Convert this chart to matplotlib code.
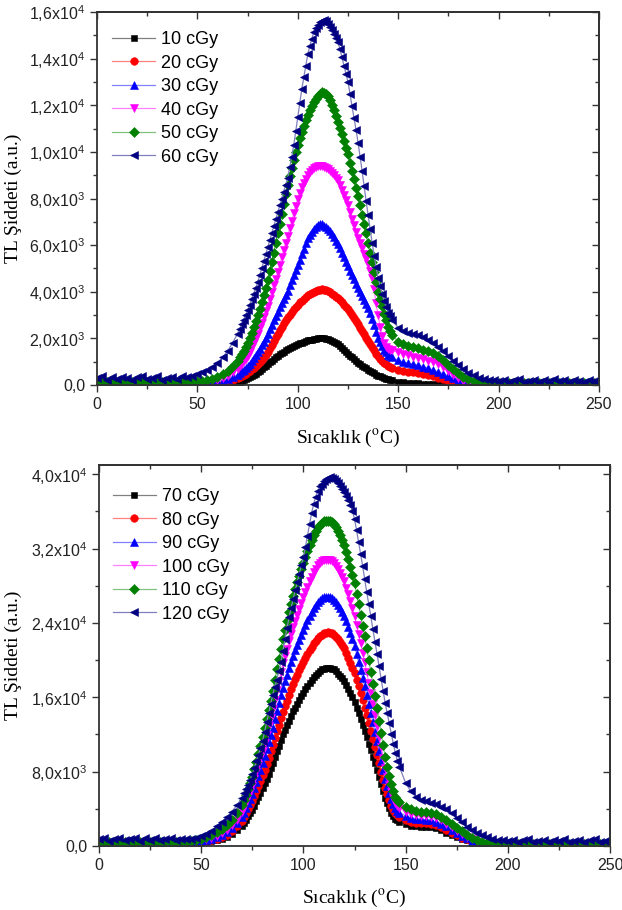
"""
TL glow curves for two dose groups (10-60 cGy and 70-120 cGy).
"""
import matplotlib.pyplot as plt
import numpy as np
from matplotlib.ticker import FuncFormatter, MultipleLocator, NullFormatter

plt.rcParams['font.family'] = ['Liberation Sans', 'DejaVu Sans']
plt.rcParams['mathtext.fontset'] = 'custom'
plt.rcParams['mathtext.rm'] = 'Liberation Sans'

# temperature channels (degC): coarse on the baselines, 1 degC over the main peak
temp = np.concatenate([np.arange(0, 70, 2.5), np.arange(70, 148, 1.0), np.arange(150, 252.5, 2.5)])

doses_top = ['10 cGy', '20 cGy', '30 cGy', '40 cGy', '50 cGy', '60 cGy']
doses_bottom = ['70 cGy', '80 cGy', '90 cGy', '100 cGy', '110 cGy', '120 cGy']

# ---- upper panel readings ----
tl_10 = [20, 30, 20, 10, 20, 30, 20, 20, 10, 20, 30, 20, 20, 10, 20, 20, 30, 20, 20, 25, 30, 30, 30, 35, 40, 50, 60, 90,
         120, 150, 180, 210, 240, 280, 330, 380, 430, 480, 540, 610, 680, 760, 830, 900, 970, 1040, 1110, 1180,
         1250, 1310, 1370, 1430, 1490, 1550, 1600, 1640, 1690, 1720, 1760, 1790, 1820, 1860, 1890,
         1910, 1930, 1950, 1970, 1990, 2000, 2010, 2010, 2000, 1980, 1960, 1930, 1890, 1850, 1800,
         1740, 1660, 1580, 1490, 1400, 1320, 1250, 1180, 1100, 1030, 960, 900, 830, 770, 710,
         650, 600, 550, 500, 450, 400, 370, 330, 300, 270, 240, 220, 200,
         150, 120, 90, 80, 70, 60, 50, 45, 35, 25, 20, 15, 10, 10, 20, 10, 10, 20, 10, 10,
         20, 10, 10, 20, 10, 10, 20, 10, 10, 20, 10, 10, 20, 10, 10, 20, 10, 10, 20, 10, 10]
tl_20 = [50, 60, 40, 50, 60, 50, 40, 50, 60, 50, 50, 40, 60, 50, 50, 60, 50, 40, 50, 50, 55, 55, 60, 60, 70, 90, 130, 200,
         290, 330, 380, 430, 480, 540, 600, 670, 740, 820, 900, 990, 1090, 1190, 1300, 1420, 1570, 1720, 1880, 2040,
         2200, 2350, 2500, 2640, 2770, 2900, 3020, 3130, 3240, 3350, 3450, 3540, 3620, 3710, 3780,
         3850, 3910, 3960, 4010, 4040, 4070, 4090, 4100, 4090, 4060, 4020, 3970, 3910, 3850, 3790,
         3720, 3630, 3540, 3450, 3350, 3250, 3130, 3000, 2870, 2740, 2600, 2460, 2320, 2170, 2030,
         1880, 1750, 1620, 1480, 1350, 1230, 1130, 1040, 960, 890, 830, 780, 740,
         660, 610, 570, 540, 500, 460, 420, 370, 300, 240, 180, 120, 80, 50, 30, 20,
         20, 30, 20, 10, 20, 20, 30, 20, 20, 10, 20, 20, 30, 20, 20, 10, 20, 20, 30, 20, 20, 10, 20, 20, 30]
tl_30 = [80, 90, 70, 80, 90, 80, 70, 80, 90, 80, 80, 70, 90, 80, 80, 90, 80, 70, 80, 80, 90, 90, 100, 110, 130, 180, 250, 340,
         450, 510, 580, 650, 720, 800, 910, 1020, 1140, 1270, 1400, 1550, 1700, 1860, 2030, 2200, 2390, 2580, 2770, 2960,
         3150, 3330, 3510, 3690, 3870, 4050, 4270, 4490, 4710, 4930, 5150, 5380, 5610, 5840, 6070,
         6300, 6440, 6580, 6700, 6790, 6850, 6900, 6890, 6840, 6780, 6700, 6590, 6460, 6330, 6190,
         6050, 5860, 5670, 5480, 5290, 5100, 4910, 4720, 4530, 4340, 4150, 3980, 3810, 3640, 3470,
         3300, 3080, 2850, 2570, 2280, 2000, 1830, 1660, 1500, 1400, 1300, 1240, 1180,
         1060, 990, 940, 890, 850, 790, 720, 640, 560, 480, 400, 300, 200, 130, 80, 50,
         40, 50, 40, 30, 40, 40, 50, 40, 40, 30, 40, 40, 50, 40, 40, 30, 40, 40, 50, 40, 40, 30, 40, 40, 50]
tl_40 = [110, 120, 100, 110, 120, 110, 100, 110, 120, 110, 110, 100, 120, 110, 110, 120, 110, 100, 110, 115,
         120, 130, 150, 170, 200, 280, 400, 540,
         700, 800, 910, 1020, 1130, 1250, 1430, 1620, 1810, 2000, 2200, 2440, 2680, 2920, 3160, 3400, 3690, 3980, 4270, 4560,
         4850, 5160, 5470, 5780, 6090, 6400, 6720, 7040, 7360, 7680, 8000, 8250, 8480, 8680, 8850,
         9000, 9120, 9220, 9300, 9350, 9380, 9400, 9390, 9350, 9300, 9250, 9170, 9090, 9000, 8900,
         8800, 8600, 8380, 8150, 7930, 7700, 7420, 7140, 6860, 6580, 6300, 6080, 5860, 5640, 5420,
         5200, 4900, 4600, 4100, 3500, 3000, 2500, 2100, 1800, 1650, 1550, 1510, 1480,
         1400, 1330, 1270, 1220, 1160, 1110, 1050, 970, 880, 760, 580, 430, 300, 180, 110, 70,
         60, 70, 60, 50, 60, 60, 70, 60, 60, 50, 60, 60, 70, 60, 60, 50, 60, 60, 70, 60, 60, 50, 60, 60, 70]
tl_50 = [140, 150, 130, 140, 150, 140, 130, 140, 150, 140, 140, 130, 150, 140, 140, 150, 140, 130, 140, 150,
         160, 180, 210, 270, 350, 460, 600, 800,
         1050, 1180, 1320, 1470, 1630, 1800, 2020, 2250, 2500, 2750, 3000, 3280, 3570, 3870, 4180, 4500, 4880, 5270, 5670, 6080,
         6500, 6920, 7340, 7760, 8180, 8600, 8960, 9310, 9650, 9980, 10300, 10580, 10850, 11110, 11360,
         11600, 11790, 11970, 12130, 12280, 12400, 12500, 12550, 12530, 12480, 12400, 12220, 12020, 11800, 11560,
         11300, 11030, 10750, 10470, 10180, 9900, 9540, 9180, 8820, 8460, 8100, 7700, 7300, 6900, 6500,
         6100, 5680, 5260, 4840, 4420, 4000, 3680, 3370, 3060, 2770, 2500, 2310, 2150,
         1850, 1740, 1670, 1620, 1570, 1520, 1460, 1380, 1250, 1080, 870, 680, 500, 360, 250, 160, 110, 90,
         80, 90, 80, 70, 80, 80, 90, 80, 80, 70, 80, 80, 90, 80, 80, 70, 80, 80, 90, 80, 80, 70, 80]
tl_60 = [300, 380, 220, 330, 250, 360, 290, 210, 340, 390, 260, 310, 370, 230, 300, 350, 260, 380, 350, 400,
         460, 550, 650, 790, 950, 1180, 1450, 1800,
         2200, 2400, 2600, 2800, 3000, 3200, 3440, 3680, 3920, 4160, 4400, 4700, 5000, 5300, 5600, 5900, 6200, 6500, 6800, 7100,
         7400, 7700, 8000, 8300, 8600, 8900, 9350, 9800, 10300, 10900, 11500, 12100, 12700, 13200, 13700,
         14200, 14550, 14850, 15150, 15320, 15450, 15550, 15620, 15650, 15600, 15500, 15360, 15210, 15050, 14880,
         14700, 14400, 14050, 13700, 13350, 13000, 12500, 11950, 11450, 10950, 10400, 9800, 9200, 8550, 7900,
         7300, 6700, 6100, 5550, 5050, 4600, 4250, 3900, 3600, 3350, 3100, 2950, 2800,
         2450, 2320, 2250, 2200, 2140, 2060, 1950, 1820, 1650, 1450, 1250, 1050, 850, 680, 530, 420, 320, 260, 220, 200,
         180, 230, 140, 200, 240, 150, 190, 220, 130, 210, 180, 240, 160, 200, 140, 230, 190, 150, 220, 170, 200]

# ---- lower panel readings ----
tl_70 = [200, 220, 190, 210, 200, 180, 210, 200, 220, 190, 200, 210, 190, 200, 220, 200, 190,
         220, 250, 300, 350, 420, 520, 650, 800, 1000, 1300, 1700,
         2200, 2500, 2850, 3200, 3550, 3900, 4350, 4800, 5250, 5720, 6200, 6730, 7260, 7800, 8350,
         8900, 9550, 10200, 10800, 11400, 12000, 12500, 13000, 13500, 14000, 14500, 14900, 15300, 15700, 16100,
         16500, 16850, 17200, 17550, 17900, 18200, 18450, 18650, 18850, 19000, 19100, 19180, 19200, 19150, 19080,
         19000, 18800, 18550, 18300, 18050, 17800, 17350, 16900, 16450, 16000, 15500, 14900, 14300, 13700, 13050,
         12400, 11700, 11000, 10300, 9600, 8900, 8150, 7400, 6650, 5900, 5200, 4650, 4100, 3600, 3200,
         2900, 2750, 2600,
         2350, 2200, 2100, 2060, 2050, 2000, 1900, 1700, 1450, 1200, 950, 750, 600, 350, 150, 80,
         50, 60, 40, 50, 60, 50, 40, 50, 60, 50, 50, 40, 60, 50, 50, 60, 50, 40, 50, 50, 60, 50, 40, 50, 60]
tl_80 = [250, 270, 240, 260, 250, 230, 260, 250, 270, 240, 250, 260, 240, 250, 270, 250, 240,
         270, 300, 360, 420, 510, 630, 790, 980, 1230, 1600, 2100,
         2700, 3080, 3500, 3930, 4370, 4820, 5350, 5900, 6450, 7020, 7600, 8230, 8870, 9520, 10180,
         10850, 11600, 12350, 13050, 13750, 14450, 15050, 15650, 16250, 16850, 17450, 17950, 18450, 18900, 19350,
         19800, 20250, 20650, 21050, 21450, 21800, 22100, 22350, 22580, 22750, 22880, 22970, 23000, 22950, 22870,
         22750, 22530, 22250, 21950, 21650, 21350, 20820, 20280, 19740, 19200, 18600, 17900, 17170, 16450, 15680,
         14900, 14050, 13200, 12380, 11550, 10700, 9800, 8900, 8000, 7100, 6250, 5600, 4950, 4350, 3880,
         3500, 3300, 3120,
         2800, 2620, 2500, 2450, 2430, 2370, 2250, 2030, 1750, 1450, 1150, 900, 700, 450, 230, 120,
         70, 80, 60, 70, 80, 70, 60, 70, 80, 70, 70, 60, 80, 70, 70, 80, 70, 60, 70, 70, 80, 70, 60, 70, 80]
tl_90 = [300, 320, 290, 310, 300, 280, 310, 300, 320, 290, 300, 310, 290, 300, 320, 300, 290,
         320, 360, 420, 500, 610, 760, 950, 1180, 1480, 1900, 2450,
         3150, 3600, 4080, 4580, 5100, 5620, 6250, 6900, 7550, 8220, 8900, 9650, 10400, 11180, 11960,
         12750, 13650, 14550, 15400, 16250, 17050, 17750, 18450, 19150, 19850, 20500, 21080, 21650, 22200, 22750,
         23250, 23780, 24280, 24750, 25200, 25600, 25950, 26250, 26480, 26650, 26750, 26800, 26800, 26750, 26650,
         26500, 26250, 25930, 25580, 25200, 24800, 24180, 23550, 22900, 22250, 21550, 20700, 19850, 18980, 18100,
         17200, 16250, 15250, 14270, 13300, 12300, 11250, 10200, 9200, 8200, 7250, 6450, 5700, 5050, 4500,
         4050, 3800, 3600,
         3250, 3050, 2920, 2860, 2830, 2760, 2630, 2400, 2100, 1750, 1400, 1100, 850, 580, 330, 170,
         100, 110, 90, 100, 110, 100, 90, 100, 110, 100, 100, 90, 110, 100, 100, 110, 100, 90, 100, 100, 110, 100, 90, 100, 110]
tl_100 = [350, 370, 340, 360, 350, 330, 360, 350, 370, 340, 350, 360, 340, 350, 370, 350, 340,
          380, 430, 500, 600, 730, 900, 1120, 1400, 1750, 2250, 2850,
          3650, 4150, 4700, 5270, 5850, 6450, 7180, 7920, 8680, 9450, 10250, 11100, 11980, 12870, 13780,
          14700, 15720, 16750, 17730, 18700, 19650, 20450, 21250, 22050, 22820, 23580, 24250, 24900, 25530, 26150,
          26750, 27350, 27920, 28470, 28980, 29450, 29850, 30200, 30450, 30630, 30750, 30800, 30800, 30750, 30620,
          30450, 30150, 29800, 29400, 28970, 28500, 27800, 27080, 26330, 25580, 24780, 23800, 22820, 21820, 20820,
          19800, 18700, 17550, 16420, 15300, 14150, 12950, 11750, 10600, 9450, 8350, 7420, 6550, 5800, 5150,
          4620, 4330, 4100,
          3700, 3470, 3320, 3250, 3220, 3150, 3000, 2760, 2420, 2050, 1650, 1300, 1000, 700, 420, 230,
          150, 160, 140, 150, 160, 150, 140, 150, 160, 150, 150, 140, 160, 150, 150, 160, 150, 140, 150, 150, 160, 150, 140, 150, 160]
tl_110 = [450, 470, 440, 460, 450, 430, 460, 450, 470, 440, 450, 460, 440, 450, 470, 450, 440,
          480, 540, 640, 780, 960, 1200, 1500, 1850, 2280, 2850, 3550,
          4400, 4950, 5530, 6140, 6780, 7450, 8250, 9080, 9930, 10800, 11700, 12650, 13630, 14630, 15650,
          16700, 17850, 19000, 20100, 21200, 22300, 23250, 24200, 25150, 26050, 26900, 27650, 28400, 29100, 29800,
          30450, 31100, 31750, 32350, 32920, 33450, 33900, 34280, 34580, 34800, 34930, 35000, 35000, 34950, 34830,
          34620, 34300, 33900, 33450, 32950, 32400, 31650, 30850, 30000, 29150, 28250, 27150, 26020, 24880, 23720,
          22550, 21300, 20000, 18720, 17450, 16150, 14800, 13450, 12150, 10850, 9600, 8550, 7570, 6700, 5950,
          5320, 4970, 4700,
          4250, 3950, 3780, 3700, 3660, 3580, 3420, 3150, 2800, 2400, 1970, 1570, 1230, 900, 620, 400, 280, 220,
          200, 210, 190, 200, 210, 200, 190, 200, 210, 200, 200, 190, 210, 200, 200, 210, 200, 190, 200, 200, 210, 200, 190]
tl_120 = [700, 850, 560, 780, 900, 620, 740, 880, 590, 810, 680, 900, 600, 760, 850, 640, 720,
          720, 780, 880, 1050, 1300, 1650, 2100, 2600, 3100, 3700, 4400,
          5200, 5650, 6100, 6600, 7150, 7700, 8400, 9100, 9800, 10550, 11300, 12300, 13300, 14300, 15300,
          16300, 17100, 17900, 18800, 19800, 21000, 22300, 23500, 24600, 25600, 26600, 27500, 28400, 29300, 30200,
          31100, 32200, 33400, 34600, 35800, 36800, 37600, 38200, 38700, 39000, 39300, 39500, 39650, 39700, 39650,
          39500, 39300, 39050, 38750, 38450, 38100, 37700, 37250, 36700, 36000, 35200, 34000, 32700, 31400, 30100,
          28700, 27300, 26000, 24700, 23300, 22000, 20700, 19400, 18000, 16700, 15400, 14300, 13200, 12100, 11000,
          10000, 9200, 8500,
          6800, 5900, 5300, 5000, 4800, 4650, 4500, 4250, 3950, 3550, 3050, 2550, 2050, 1700, 1400, 1150, 970, 800,
          680, 600,
          550, 680, 430, 600, 720, 470, 560, 690, 420, 620, 520, 700, 450, 580, 660, 480, 600, 700, 440, 580, 520]

# marker, marker colour, connecting line colour, marker size
styles = [
    ('s', '#000000', '#808080', 5.0),
    ('o', '#ff0000', '#ff8080', 5.5),
    ('^', '#0000ff', '#8080ff', 6.0),
    ('v', '#ff00ff', '#ff80ff', 6.0),
    ('D', '#008000', '#80c080', 4.6),
    ('<', '#000080', '#8080c0', 6.0),
]


def sci_label(v, pos):
    if v == 0:
        return '0,0'
    exp = int(np.floor(np.log10(abs(v)) + 1e-9))
    mant = f'{v / 10 ** exp:.1f}'.replace('.', '{,}')
    return rf'$\mathregular{{{mant}x10^{{{exp}}}}}$'


def style_axes(ax, ymax, ymajor, yminor, label_x, xlabel_y):
    ax.set_xlim(0, 250)
    ax.set_ylim(0, ymax)
    ax.xaxis.set_major_locator(MultipleLocator(50))
    ax.xaxis.set_minor_locator(MultipleLocator(25))
    ax.yaxis.set_major_locator(MultipleLocator(ymajor))
    ax.yaxis.set_minor_locator(MultipleLocator(yminor))
    ax.yaxis.set_major_formatter(FuncFormatter(sci_label))
    ax.tick_params(which='both', direction='out', width=1.0, color='#333333',
                   labelcolor='#222222', labelsize=11.5)
    ax.tick_params(which='major', length=5)
    ax.tick_params(which='minor', length=3)
    for sp in ax.spines.values():
        sp.set_linewidth(1.3)
        sp.set_color('#333333')

    # Origin-style mirrored ticks, pointing inwards on top and right
    top = ax.secondary_xaxis('top')
    top.xaxis.set_major_locator(MultipleLocator(50))
    top.xaxis.set_minor_locator(MultipleLocator(25))
    top.xaxis.set_major_formatter(NullFormatter())
    right = ax.secondary_yaxis('right')
    right.yaxis.set_major_locator(MultipleLocator(ymajor))
    right.yaxis.set_minor_locator(MultipleLocator(yminor))
    right.yaxis.set_major_formatter(NullFormatter())
    for sec in (top, right):
        sec.tick_params(which='both', direction='in', width=1.0, color='#333333')
        sec.tick_params(which='major', length=5)
        sec.tick_params(which='minor', length=3)
        for sp in sec.spines.values():
            sp.set_linewidth(1.3)
            sp.set_color('#333333')

    ax.set_xlabel(r'Sıcaklık ($^{\mathrm{o}}$C)', fontfamily='Liberation Serif',
                  fontsize=14, math_fontfamily='stix')
    ax.set_ylabel('TL Şiddeti (a.u.)', fontfamily='Liberation Serif', fontsize=14)
    ax.xaxis.set_label_coords(0.5, xlabel_y)
    ax.yaxis.set_label_coords(label_x, 0.5)


def draw_curves(ax, series, labels, legend_anchor):
    for vals, lab, (mk, col, lcol, ms) in zip(series, labels, styles):
        ax.plot(temp, vals, color=lcol, lw=0.9, marker=mk, ms=ms,
                mfc=col, mec=col, mew=0.4, label=lab)
    ax.legend(loc='upper left', bbox_to_anchor=legend_anchor, frameon=False,
              fontsize=13, handlelength=2.4, handletextpad=0.3,
              labelspacing=0.36, borderaxespad=0, borderpad=0)


fig = plt.figure(figsize=(6.22, 9.10), dpi=100)
ax1 = fig.add_axes([97 / 622, 1 - 385 / 910, 502 / 622, 373 / 910])
ax2 = fig.add_axes([99 / 622, 1 - 846 / 910, 511 / 622, 381 / 910])

draw_curves(ax1, [tl_10, tl_20, tl_30, tl_40, tl_50, tl_60], doses_top, (0.03, 0.949))
draw_curves(ax2, [tl_70, tl_80, tl_90, tl_100, tl_110, tl_120], doses_bottom, (0.027, 0.939))

style_axes(ax1, 16000, 2000, 1000, -0.149, -0.115)
style_axes(ax2, 41000, 8000, 4000, -0.151, -0.11)

fig.savefig('out.png', dpi=100)
